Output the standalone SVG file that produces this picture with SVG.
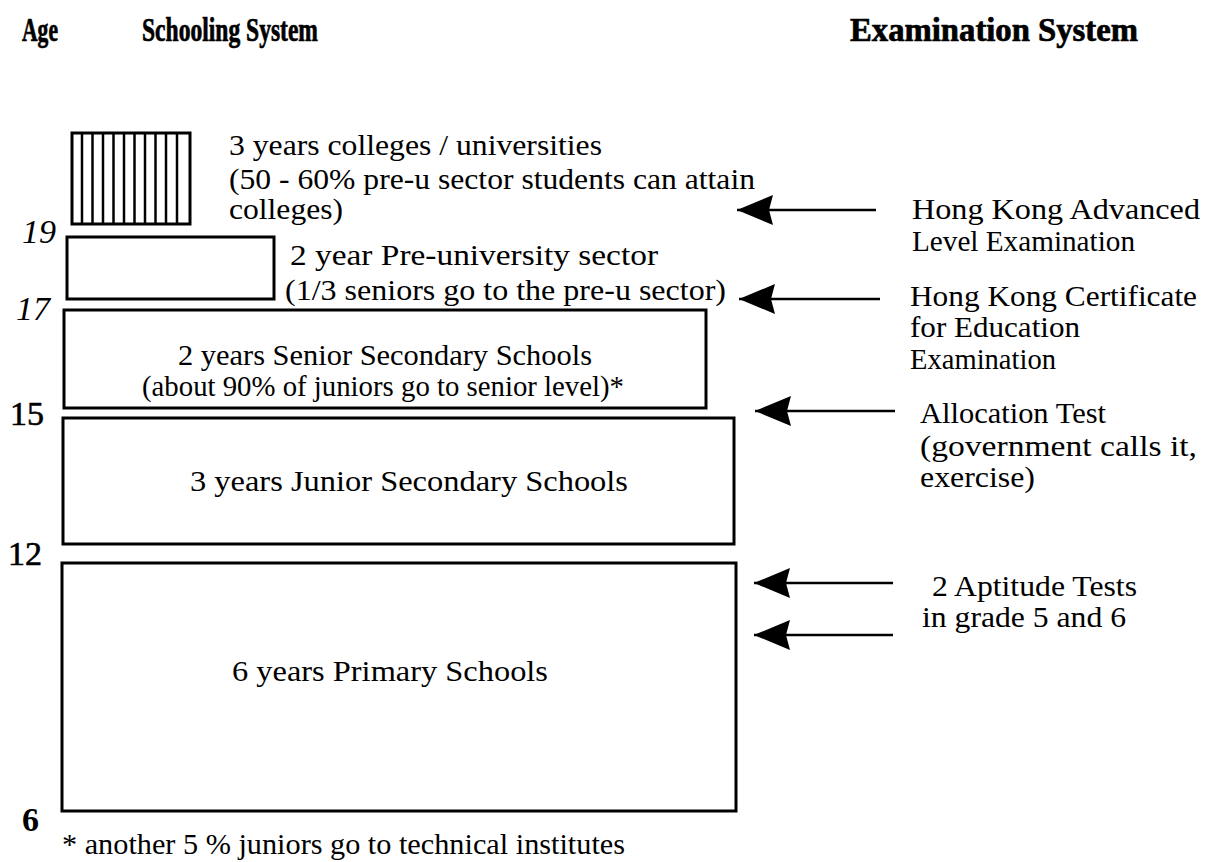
<svg xmlns="http://www.w3.org/2000/svg" width="1212" height="862" viewBox="0 0 1212 862">
<style>
text{font-family:"Liberation Serif","Times New Roman",serif;fill:#000;font-size:30px}
.h{font-weight:bold;font-size:33px;stroke:#000;stroke-width:0.7}
.age{font-size:34px}
.it{font-style:italic}
.c{text-anchor:middle}
.box{fill:#fff;stroke:#000;stroke-width:3}
.stripe{stroke:#000;stroke-width:2.5}
.conn{stroke:#000;stroke-width:2.5;fill:none}
</style>
<defs>
<marker id="ah" markerUnits="userSpaceOnUse" markerWidth="40" markerHeight="32" refX="36" refY="15" orient="auto" viewBox="0 0 40 30">
<path d="M36,15 L0,0 L4,15 L0,30 Z" fill="#000"/>
</marker>
</defs>
<g id="headers">
<text class="h" x="22" y="41" textLength="36" lengthAdjust="spacingAndGlyphs">Age</text>
<text class="h" x="142" y="41" textLength="176" lengthAdjust="spacingAndGlyphs">Schooling System</text>
<text class="h" x="850" y="41" textLength="288" lengthAdjust="spacingAndGlyphs">Examination System</text>
</g>
<g id="ages">
<text class="age it" x="22" y="243">19</text>
<text class="age it" x="16" y="320">17</text>
<text class="age" x="10" y="425" stroke="#000" stroke-width="0.6">15</text>
<text class="age" x="8" y="565" stroke="#000" stroke-width="0.6">12</text>
<text class="age" x="22" y="831" font-weight="bold">6</text>
</g>
<g id="university">
<rect class="box" x="72" y="133" width="118" height="91"/>
<g class="stripe">
<line x1="82" y1="133" x2="82" y2="224"/>
<line x1="92.5" y1="133" x2="92.5" y2="224"/>
<line x1="103" y1="133" x2="103" y2="224"/>
<line x1="113.5" y1="133" x2="113.5" y2="224"/>
<line x1="124" y1="133" x2="124" y2="224"/>
<line x1="134.5" y1="133" x2="134.5" y2="224"/>
<line x1="145" y1="133" x2="145" y2="224"/>
<line x1="155.5" y1="133" x2="155.5" y2="224"/>
<line x1="166" y1="133" x2="166" y2="224"/>
<line x1="177" y1="133" x2="177" y2="224"/>
</g>
<text x="229" y="155" textLength="373" lengthAdjust="spacingAndGlyphs">3 years colleges / universities</text>
<text x="229" y="189" textLength="526" lengthAdjust="spacingAndGlyphs">(50 - 60% pre-u sector students can attain</text>
<text x="229" y="219" textLength="114" lengthAdjust="spacingAndGlyphs">colleges)</text>
</g>
<g id="preu">
<rect class="box" x="67" y="237" width="207" height="62"/>
<text x="290" y="265" textLength="368" lengthAdjust="spacingAndGlyphs">2 year Pre-university sector</text>
<text x="285" y="300" textLength="441" lengthAdjust="spacingAndGlyphs">(1/3 seniors go to the pre-u sector)</text>
</g>
<g id="senior">
<rect class="box" x="64" y="310" width="642" height="98"/>
<text class="c" x="385" y="365" textLength="414" lengthAdjust="spacingAndGlyphs">2 years Senior Secondary Schools</text>
<text class="c" x="383" y="396" textLength="482" lengthAdjust="spacingAndGlyphs">(about 90% of juniors go to senior level)*</text>
</g>
<g id="junior">
<rect class="box" x="63" y="418" width="671" height="126"/>
<text class="c" x="409" y="491" textLength="438" lengthAdjust="spacingAndGlyphs">3 years Junior Secondary Schools</text>
</g>
<g id="primary">
<rect class="box" x="62" y="563" width="674" height="248"/>
<text class="c" x="390" y="681" textLength="316" lengthAdjust="spacingAndGlyphs">6 years Primary Schools</text>
</g>
<g id="footnote">
<text x="62" y="854" textLength="563" lengthAdjust="spacingAndGlyphs">* another 5 % juniors go to technical institutes</text>
</g>
<g id="exams">
<text x="912" y="219" textLength="288" lengthAdjust="spacingAndGlyphs">Hong Kong Advanced</text>
<text x="912" y="251" textLength="223" lengthAdjust="spacingAndGlyphs">Level Examination</text>
<text x="910" y="306" textLength="287" lengthAdjust="spacingAndGlyphs">Hong Kong Certificate</text>
<text x="910" y="337" textLength="170" lengthAdjust="spacingAndGlyphs">for Education</text>
<text x="910" y="369" textLength="146" lengthAdjust="spacingAndGlyphs">Examination</text>
<text x="920" y="423" textLength="186" lengthAdjust="spacingAndGlyphs">Allocation Test</text>
<text x="920" y="456" textLength="277" lengthAdjust="spacingAndGlyphs">(government calls it,</text>
<text x="920" y="487" textLength="115" lengthAdjust="spacingAndGlyphs">exercise)</text>
<text x="932" y="596" textLength="205" lengthAdjust="spacingAndGlyphs">2 Aptitude Tests</text>
<text x="922" y="627" textLength="204" lengthAdjust="spacingAndGlyphs">in grade 5 and 6</text>
</g>
<g id="connectors">
<line class="conn" x1="876" y1="210" x2="737" y2="210" marker-end="url(#ah)"/>
<line class="conn" x1="880" y1="299" x2="739" y2="299" marker-end="url(#ah)"/>
<line class="conn" x1="895" y1="411" x2="755" y2="411" marker-end="url(#ah)"/>
<line class="conn" x1="893" y1="583" x2="754" y2="583" marker-end="url(#ah)"/>
<line class="conn" x1="893" y1="635" x2="754" y2="635" marker-end="url(#ah)"/>
</g>
</svg>
